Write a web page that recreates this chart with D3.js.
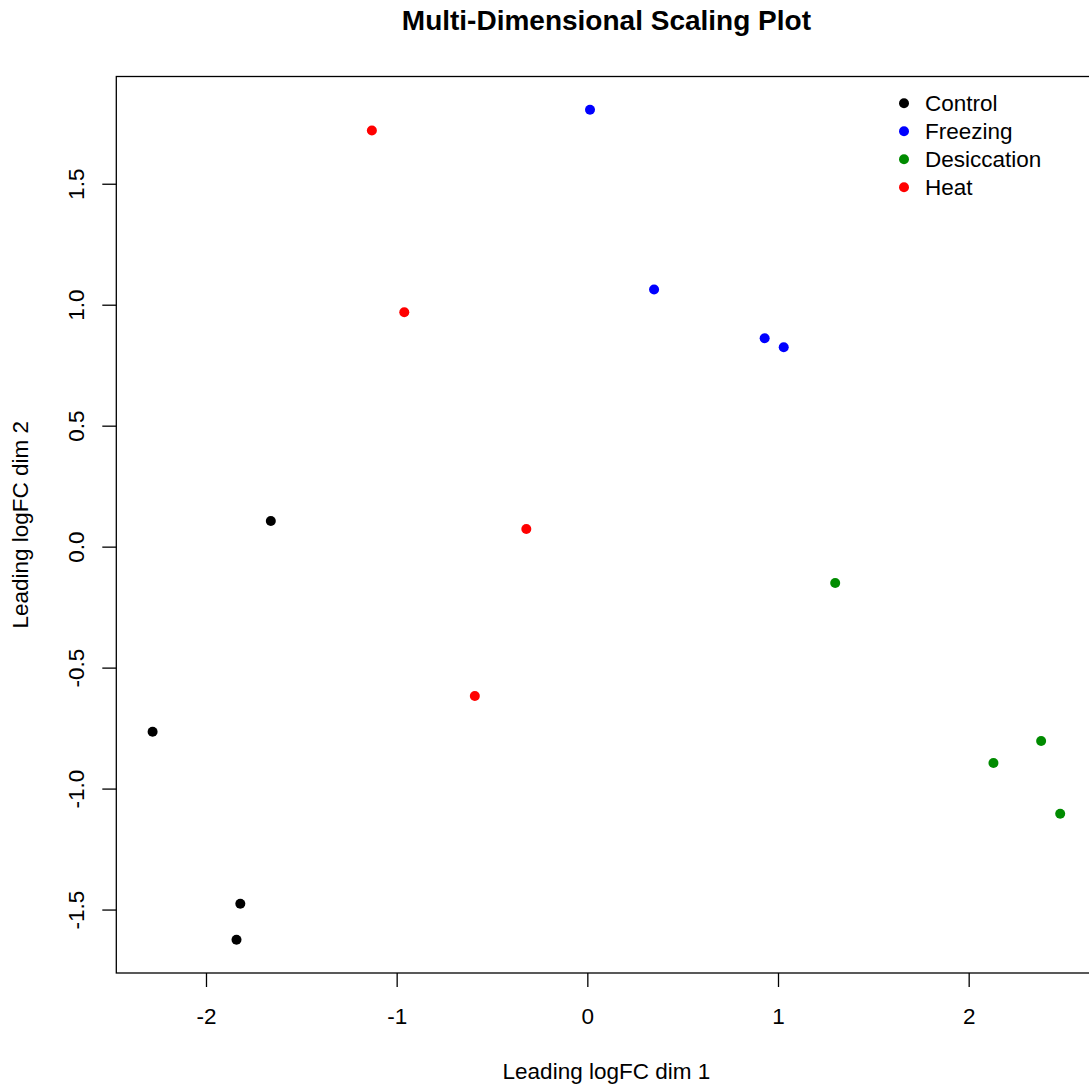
<!DOCTYPE html>
<html><head><meta charset="utf-8">
<script src="https://cdn.jsdelivr.net/npm/d3@7"></script>
<style>body{margin:0;background:#fff}svg{display:block}text{font-family:"Liberation Sans",Arial,sans-serif}</style>
</head><body>
<script>
const groups = ["Control","Freezing","Desiccation","Heat"];
const groupColors = ["#000000","#0000FF","#008B00","#FF0000"];
const sampleGroup = ["Control","Control","Control","Control",
  "Freezing","Freezing","Freezing","Freezing",
  "Desiccation","Desiccation","Desiccation","Desiccation",
  "Heat","Heat","Heat","Heat"];
const dim1 = [-1.66,-2.28,-1.82,-1.84, 0.014,0.35,0.93,1.03, 1.30,2.13,2.38,2.48, -1.13,-0.96,-0.32,-0.59];
const dim2 = [0.106,-0.765,-1.476,-1.625, 1.806,1.063,0.861,0.824, -0.150,-0.894,-0.803,-1.104, 1.720,0.969,0.073,-0.617];
const xTicks = [-2,-1,0,1,2];
const xTickLabels = ["-2","-1","0","1","2"];
const yTicks = [-1.5,-1.0,-0.5,0,0.5,1.0,1.5];
const yTickLabels = ["-1.5","-1.0","-0.5","0.0","0.5","1.0","1.5"];

const W=1089,H=1091;
const L=116.3,R=1096.5,T=76.5,B=973;
const FS=22.5;
const svg=d3.select("body").append("svg").attr("width",W).attr("height",H);
const ext=(a)=>{const [lo,hi]=d3.extent(a);const p=(hi-lo)*0.04;return [lo-p,hi+p];};
const x=d3.scaleLinear().domain(ext(dim1)).range([L,R]);
const y=d3.scaleLinear().domain(ext(dim2)).range([B,T]);
const color=d3.scaleOrdinal().domain(groups).range(groupColors);

svg.append("rect").attr("x",L).attr("y",T).attr("width",R-L).attr("height",B-T)
  .attr("fill","none").attr("stroke","#000").attr("stroke-width",1.3);

const xa=svg.append("g").attr("transform",`translate(0,${B})`)
  .call(d3.axisBottom(x).tickValues(xTicks).tickFormat((d,i)=>xTickLabels[i]).tickSize(14).tickPadding(36));
xa.select(".domain").remove();
xa.selectAll("line").attr("stroke","#000").attr("stroke-width",1.3);
xa.selectAll("text").attr("font-size",FS).attr("fill","#000").attr("dy",0).attr("y",51);

const ya=svg.append("g").attr("transform",`translate(${L},0)`)
  .call(d3.axisLeft(y).tickValues(yTicks).tickFormat((d,i)=>yTickLabels[i]).tickSize(14));
ya.select(".domain").remove();
ya.selectAll("line").attr("stroke","#000").attr("stroke-width",1.3);
ya.selectAll("text").attr("font-size",FS).attr("fill","#000")
  .attr("x",null).attr("dy",0).attr("text-anchor","middle")
  .attr("transform","translate(-32,0) rotate(-90)");

svg.append("text").attr("x",(L+R)/2).attr("y",30).attr("text-anchor","middle")
  .attr("font-size",28).attr("font-weight","bold").text("Multi-Dimensional Scaling Plot");
svg.append("text").attr("x",(L+R)/2).attr("y",1079).attr("text-anchor","middle")
  .attr("font-size",FS).text("Leading logFC dim 1");
svg.append("text").attr("transform",`translate(27.5,${(T+B)/2}) rotate(-90)`).attr("text-anchor","middle")
  .attr("font-size",FS).text("Leading logFC dim 2");

svg.append("g").selectAll("circle").data(dim1).join("circle")
  .attr("cx",(d)=>x(d)).attr("cy",(d,i)=>y(dim2[i])).attr("r",5)
  .attr("fill",(d,i)=>color(sampleGroup[i]));

const lg=svg.append("g");
groups.forEach((g,i)=>{
  const yy=103.3+i*28;
  lg.append("circle").attr("cx",904).attr("cy",yy).attr("r",5).attr("fill",color(g));
  lg.append("text").attr("x",925).attr("y",yy).attr("dy","0.36em").attr("font-size",FS).text(g);
});
</script>
</body></html>
